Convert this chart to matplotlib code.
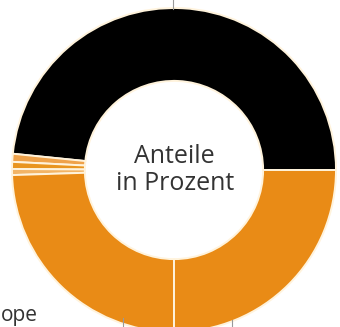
import matplotlib
matplotlib.use("Agg")
import matplotlib.pyplot as plt
from matplotlib.lines import Line2D

# shares in percent, counter-clockwise from 3 o'clock
labels = ["A", "B", "C", "D", "E", "F"]
shares = [48.4, 0.8, 0.7, 0.6, 24.5, 25.0]
colors = ["#000000", "#EFA24A", "#E9951F", "#F2B466", "#E98B16", "#E98B16"]

fig = plt.figure(figsize=(3.4, 3.27), dpi=100)
ax = fig.add_axes([0, 0, 1, 1])

# pie centre sits at pixel (174, 170), radius ~162 px
scale = 162.0
ax.pie(shares, colors=colors, startangle=0, counterclock=True, radius=1.0,
       wedgeprops=dict(width=0.45, edgecolor="#FFF3DC", linewidth=1.4))

ax.set_xlim(-174 / scale, (340 - 174) / scale)
ax.set_ylim(-(327 - 170) / scale, 170 / scale)
ax.set_aspect("auto")
ax.axis("off")

ax.text(0.005, 0.0, "Anteile\nin Prozent", ha="center", va="center",
        fontsize=18, color="#333333", family="Open Sans", linespacing=1.15)

# cropped label at lower left
fig.text(0.003, 0.003, "ope", ha="left", va="bottom", fontsize=15,
         color="#333333", family="Open Sans")

# small gray tick marks from the surrounding chart
for x, y0, y1 in [(173, 0, 9), (123, 318, 327), (232, 320, 327)]:
    fig.add_artist(Line2D([x / 340, x / 340], [1 - y0 / 327, 1 - y1 / 327],
                          color="#999999", linewidth=0.8))

fig.savefig("out.png", dpi=100, facecolor="white")
